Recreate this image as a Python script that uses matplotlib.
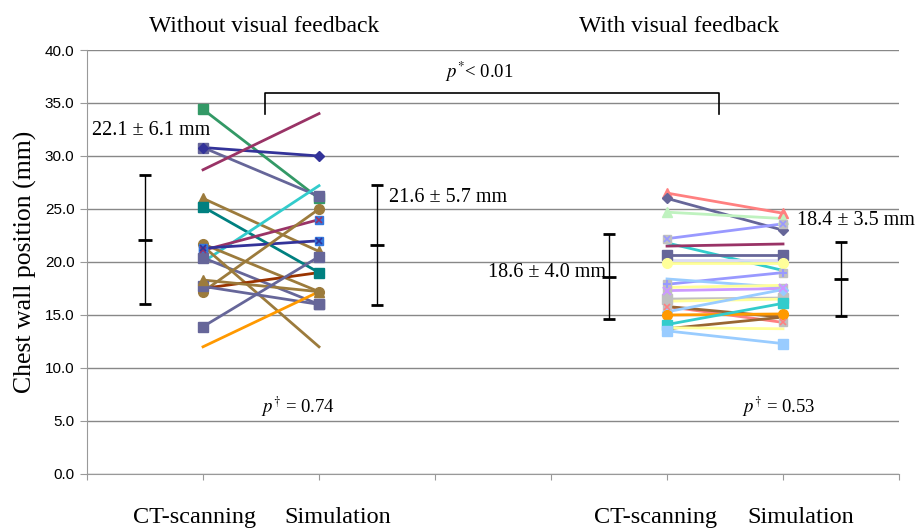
import matplotlib
matplotlib.use("Agg")
import matplotlib.pyplot as plt

# ---- data ----
# without visual feedback: CT-scanning -> Simulation (mm)
ct_nofb = [34.4, 30.8, 30.8, 28.7, 26.0, 25.2, 20.0, 21.7, 21.1, 21.3, 20.4,
           21.5, 17.2, 17.5, 17.7, 18.3, 13.9, 12.0]
sim_nofb = [26.0, 26.2, 30.0, 34.0, 21.0, 19.0, 27.2, 17.2, 24.0, 22.0, 16.0,
            12.0, 25.0, 19.0, 16.0, 17.2, 20.5, 17.2]
col_nofb = ['#339966', '#666699', '#333399', '#993366', '#9c7b3c', '#008080',
            '#33cccc', '#9c7b3c', '#993366', '#333399', '#666699', '#9c7b3c',
            '#9c7b3c', '#993300', '#666699', '#9c7b3c', '#666699', '#ff9900']
mk_nofb = ['s', 's', 'D', '', '^', 's', '', 'o', 'xs', 'xs', 's', '', 'o', '',
           's', '^', 's', '']

# with visual feedback
ct_fb = [26.5, 26.0, 24.7, 22.2, 21.8, 21.5, 20.7, 20.2, 19.9, 17.9, 18.4,
         17.3, 17.6, 16.5, 16.3, 15.8, 15.8, 15.3, 15.0, 14.1, 13.7, 13.8, 13.5]
sim_fb = [24.6, 23.0, 24.1, 23.6, 19.2, 21.7, 20.7, 20.2, 19.9, 19.0, 17.6,
          17.5, 17.8, 16.6, 16.5, 14.3, 14.8, 17.4, 15.1, 16.1, 14.8, 13.7, 12.3]
col_fb = ['#ff8080', '#666699', '#bff2bf', '#9999ff', '#33cccc', '#993366',
          '#666699', '#dcdcf4', '#ffff99', '#9999ff', '#99ccff', '#cc99ff',
          '#ffff99', '#c0c0c0', '#ffff99', '#ff8080', '#996633', '#99ccff',
          '#ff9900', '#33cccc', '#996633', '#ffff99', '#99ccff']
mk_fb = ['^', 'D', '^', 'gx', '', '', 's', '', 'o', '+', '', 'x', '', 's', '',
         'gx', '', 'D', 'o', 's', '', '', 's']

# summary bars: mean +/- SD
bar_x = [0.5, 2.5, 4.5, 6.5]
bar_mean = [22.1, 21.6, 18.6, 18.4]
bar_sd = [6.1, 5.7, 4.0, 3.5]
bar_labels = ['22.1 \u00b1 6.1 mm', '21.6 \u00b1 5.7 mm',
              '18.6 \u00b1 4.0 mm', '18.4 \u00b1 3.5 mm']

serif = 'Liberation Serif'
sans = 'Liberation Sans'

fig = plt.figure(figsize=(9.17, 5.28), dpi=100)
ax = fig.add_axes([0.0949, 0.1023, 0.8855, 0.803])


def draw_pair(x0, ct, sim, color, mk):
    xs = [x0, x0 + 1]
    ys = [ct, sim]
    ax.plot(xs, ys, color=color, lw=2, zorder=3)
    if mk == 'xs':
        ax.plot(xs, ys, ls='', marker='s', ms=6, mfc='#3377dd', mec='#3377dd', zorder=4)
        ax.plot(xs, ys, ls='', marker='x', ms=5, mec=color, mew=1.2, zorder=5)
    elif mk == 'gx':
        ax.plot(xs, ys, ls='', marker='s', ms=6, mfc='#c0c0c0', mec='#c0c0c0', zorder=4)
        ax.plot(xs, ys, ls='', marker='x', ms=5, mec=color, mew=1.2, zorder=5)
    elif mk in ('x', '+'):
        ax.plot(xs, ys, ls='', marker='s', ms=6, mfc='#c0c0c0', mec='#c0c0c0', zorder=4)
        ax.plot(xs, ys, ls='', marker=mk, ms=6, mec=color, mew=1.5, zorder=5)
    elif mk:
        size = 5 if mk == 'D' else 7
        ax.plot(xs, ys, ls='', marker=mk, ms=size, mfc=color, mec=color, zorder=4)


for c, s, col, mk in zip(ct_nofb, sim_nofb, col_nofb, mk_nofb):
    draw_pair(1, c, s, col, mk)
for c, s, col, mk in zip(ct_fb, sim_fb, col_fb, mk_fb):
    draw_pair(5, c, s, col, mk)

ax.errorbar(bar_x, bar_mean, yerr=bar_sd, fmt='_', color='black', ms=10, mew=2,
            elinewidth=1, capsize=4, capthick=0.8, zorder=6)

# axes styling
ax.set_xlim(0, 7)
ax.set_ylim(0, 40)
ax.set_yticks(range(0, 41, 5))
ax.set_yticklabels([f'{v:.1f}' for v in range(0, 41, 5)], fontfamily=sans, fontsize=11)
ax.set_xticks(range(0, 8))
ax.set_xticklabels([])
ax.yaxis.grid(True, color='#888888', lw=1)
ax.set_axisbelow(True)
for sp in ['top', 'right']:
    ax.spines[sp].set_visible(False)
for sp in ['left', 'bottom']:
    ax.spines[sp].set_color('#999999')
ax.tick_params(axis='both', colors='#999999', length=4, labelcolor='black')
ax.tick_params(axis='y', length=5, pad=4)
ax.set_ylabel('Chest wall position (mm)', fontfamily=serif, fontsize=18.5, labelpad=6)

# group titles and category labels
ax.text(1.53, 42.2, 'Without visual feedback', fontfamily=serif, fontsize=17,
        ha='center', va='center')
ax.text(5.1, 42.2, 'With visual feedback', fontfamily=serif, fontsize=17,
        ha='center', va='center')
for xc, lab in zip([0.93, 2.16, 4.9, 6.15],
                   ['CT-scanning', 'Simulation', 'CT-scanning', 'Simulation']):
    ax.text(xc, -4.1, lab, fontfamily=serif, fontsize=17.5, ha='center', va='center')

# mean +/- SD annotations
ax.text(0.04, 32.4, bar_labels[0], fontfamily=serif, fontsize=14.5, ha='left', va='center')
ax.text(2.6, 26.1, bar_labels[1], fontfamily=serif, fontsize=14.5, ha='left', va='center')
ax.text(4.47, 19.0, bar_labels[2], fontfamily=serif, fontsize=14.5, ha='right', va='center')
ax.text(6.12, 23.9, bar_labels[3], fontfamily=serif, fontsize=14.5, ha='left', va='center')

# significance bracket
ax.plot([1.535, 1.535, 5.45, 5.45], [34.0, 35.9, 35.9, 34.0], color='black', lw=1.2,
        zorder=6)
ax.text(3.38, 37.9, r'$p^{*}$< 0.01', fontfamily=serif, fontsize=13.5,
        ha='center', va='center', math_fontfamily='stix')
ax.text(1.82, 6.3, '$p^{\\dagger}$ = 0.74', fontfamily=serif, fontsize=13.5,
        ha='center', va='center', math_fontfamily='stix')
ax.text(5.96, 6.3, '$p^{\\dagger}$ = 0.53', fontfamily=serif, fontsize=13.5,
        ha='center', va='center', math_fontfamily='stix')

fig.savefig('out.png', dpi=100)
